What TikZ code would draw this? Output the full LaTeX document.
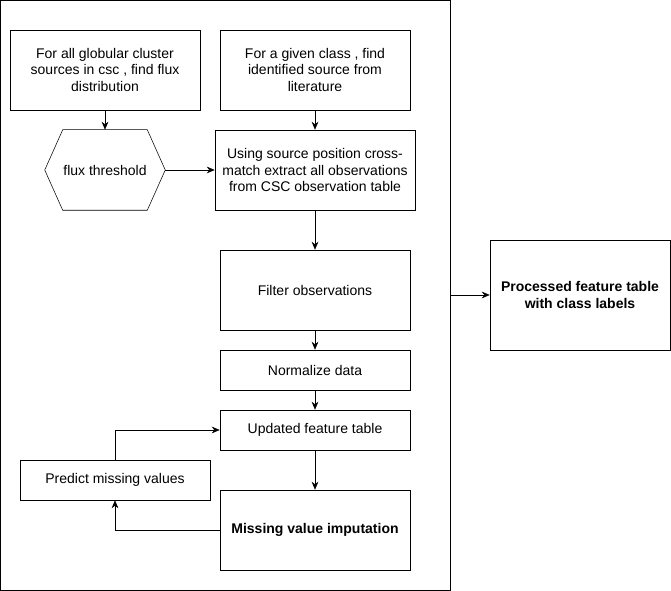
\documentclass[tikz,border=0pt]{standalone}
\usepackage{fontspec}
\setmainfont{Liberation Sans}
\usetikzlibrary{arrows.meta}

\begin{document}
\begin{tikzpicture}[x=0.75pt,y=-0.75pt,>={Stealth[length=6pt,width=5pt]},
    font=\fontsize{10.5}{12.4}\selectfont,
    box/.style={draw, rectangle, align=center, inner sep=0pt}]
    \useasboundingbox (0,0) rectangle (671,591);
    \node[draw, rectangle, minimum width=449.5*0.75pt, minimum height=589.5*0.75pt, inner sep=0pt] (frame) at (225.25,295.25) {};
    \node[box, minimum width=142.5pt, minimum height=60pt] (Globular) at (105,70) {For all globular cluster\\sources in csc , find flux\\distribution};
    \node[box, minimum width=142.5pt, minimum height=60pt] (Literature) at (315,70) {For a given class , find\\identified source from\\literature};
    \node[rectangle, minimum width=90pt, minimum height=60pt, inner sep=0pt] (Flux) at (105,170) {flux threshold};
    \draw (Flux.west) -- ([xshift=13.5pt]Flux.north west) -- ([xshift=-13.5pt]Flux.north east)
        -- (Flux.east) -- ([xshift=-13.5pt]Flux.south east) -- ([xshift=13.5pt]Flux.south west) -- cycle;
    \node[box, minimum width=150pt, minimum height=60pt] (Crossmatch) at (315,170) {Using source position cross-\\match extract all observations\\from CSC observation table};
    \node[box, minimum width=142.5pt, minimum height=60pt] (Filter) at (315,290) {Filter observations};
    \node[box, minimum width=142.5pt, minimum height=30pt] (Normalize) at (315,370) {Normalize data};
    \node[box, minimum width=142.5pt, minimum height=30pt] (Updated) at (315,430) {Updated feature table};
    \node[box, minimum width=142.5pt, minimum height=30pt] (Predict) at (115,480) {Predict missing values};
    \node[box, minimum width=142.5pt, minimum height=60pt, font=\fontsize{10.5}{12.4}\selectfont\bfseries] (Missing) at (315,530) {Missing value imputation};
    \node[box, minimum width=135pt, minimum height=82.5pt, font=\fontsize{10.5}{12.4}\selectfont\bfseries] (Processed) at (580,295) {Processed feature table\\with class labels};
    \draw[->] (Globular.south) -- (Flux.north);
    \draw[->] (Literature.south) -- (Crossmatch.north);
    \draw[->] (Flux.east) -- (Crossmatch.west);
    \draw[->] (Crossmatch.south) -- (Filter.north);
    \draw[->] (Filter.south) -- (Normalize.north);
    \draw[->] (Normalize.south) -- (Updated.north);
    \draw[->] (Updated.south) -- (Missing.north);
    \draw[->] (Missing.west) -| (Predict.south);
    \draw[->] (Predict.north) |- (Updated.west);
    \draw[->] (frame.east |- Processed.west) -- (Processed.west);
\end{tikzpicture}
\end{document}
